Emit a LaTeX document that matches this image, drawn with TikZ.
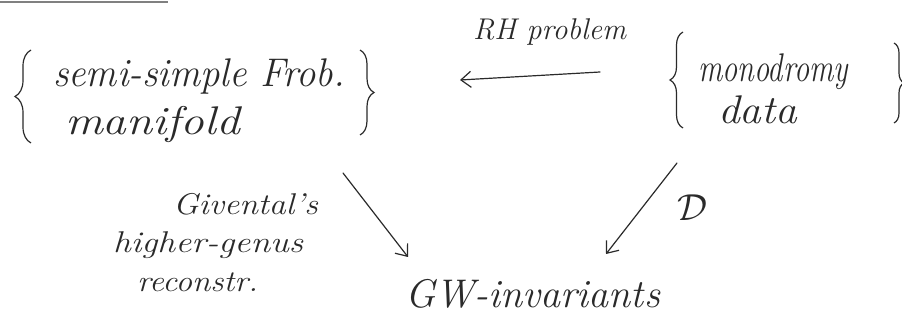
\documentclass[tikz,border=0pt]{standalone}
\usetikzlibrary{decorations.pathreplacing,arrows.meta}
\definecolor{ink}{HTML}{2A2A2A}
\tikzset{
 hw/.style={inner sep=0pt, outer sep=0pt, anchor=base west, text=ink},
 big/.style={hw, font=\fontsize{40}{44}\selectfont\itshape},
 small/.style={hw, font=\fontsize{30}{34}\selectfont\itshape},
 arr/.style={line width=1.2pt, draw=ink, line cap=round, -{Straight Barb[length=10pt,width=16pt,line width=1.2pt]}},
 brc/.style={line width=1.2pt, draw=ink, decorate, decoration={brace, amplitude=#1}},
}
\newcommand{\fw}[2]{\resizebox{#1pt}{\height}{#2}}
\begin{document}
\begin{tikzpicture}[x=1pt,y=-1pt]
\useasboundingbox (0,0) rectangle (902,320);
\draw[gray, line width=2pt] (0,2) -- (168,2);
% left group
\draw[brc=16pt] (31,143) -- (31,50);
\node[big] (frobA) at (53,87) {\fw{292}{semi-simple Frob.}};
\node[big] (frobB) at (65,135) {\fw{175}{manifold}};
\draw[brc=14pt] (360,50) -- (360,135);
% right group
\draw[brc=13pt] (683,128) -- (683,32);
\node[big] (monoA) at (698,82) {\fw{150}{monodromy}};
\node[big] (monoB) at (718,124) {\fw{79}{data}};
\draw[brc=10pt] (894,43) -- (894,123);
% labels
\node[small] (rh) at (473,40) {\fw{153}{RH problem}};
\node[small] (givA) at (173,215) {\fw{145}{Givental's}};
\node[small] (givB) at (113,253) {\fw{190}{higher-genus}};
\node[small] (givC) at (137,292) {\fw{121}{reconstr.}};
\node[hw] (dlab) at (677,221) {\resizebox{30pt}{!}{$\mathcal{D}$}};
\node[big] (gw) at (405,308) {\fw{255}{GW-invariants}};
% connectors
\coordinate (rhS) at (600,72);
\coordinate (rhE) at (460,80);
\coordinate (gS) at (343,173);
\coordinate (gE) at (408,257);
\coordinate (dS) at (677,163);
\coordinate (dE) at (606,254);
\draw[arr] (rhS) -- (rhE);
\draw[arr] (gS) -- (gE);
\draw[arr] (dS) -- (dE);
\end{tikzpicture}
\end{document}
